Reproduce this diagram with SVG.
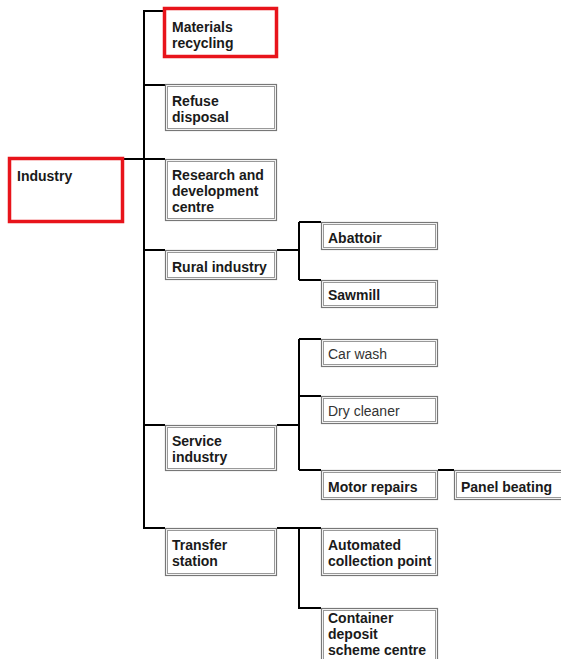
<svg xmlns="http://www.w3.org/2000/svg" width="561" height="659" viewBox="0 0 561 659">
<style>
.o{fill:#fff;stroke:#777;stroke-width:1.2}
.i{fill:none;stroke:#999;stroke-width:1}
.r{fill:#fff;stroke:#e8141b;stroke-width:3.5}
.t{font-family:"Liberation Sans",Arial,sans-serif;font-size:14px;font-weight:bold;fill:#1a1a1a}
.n{font-family:"Liberation Sans",Arial,sans-serif;font-size:14px;fill:#333}
.c{fill:none;stroke:#000;stroke-width:2}
</style>
<rect width="561" height="659" fill="#fff"/>
<g id="connectors">
<path class="c" d="M144,10 V528 H165"/>
<path class="c" d="M144,11 H165 M144,85 H165 M123,159 H165 M144,250 H165 M144,425 H165"/>
<path class="c" d="M277,250 H299 M299,222 V280 M299,222 H321 M299,280 H321"/>
<path class="c" d="M277,425 H299 M299,339 V470 M299,339 H321 M299,396 H321 M299,470 H321 M438,470 H454"/>
<path class="c" d="M277,528 H321 M299,528 V608 H321"/>
</g>
<g id="industry"><rect class="r" x="9.5" y="158.5" width="113" height="63"/><text class="t" x="17" y="181">Industry</text></g>
<g id="materials"><rect class="r" x="164.5" y="8.5" width="112" height="48"/><text class="t" x="172" y="32">Materials</text><text class="t" x="172" y="48">recycling</text></g>
<g id="refuse"><rect class="o" x="165.5" y="84.5" width="111" height="46"/><rect class="i" x="167.5" y="86.5" width="107" height="42"/><text class="t" x="172" y="106">Refuse</text><text class="t" x="172" y="122">disposal</text></g>
<g id="research"><rect class="o" x="165.5" y="159.5" width="111" height="61"/><rect class="i" x="167.5" y="161.5" width="107" height="57"/><text class="t" x="172" y="180">Research and</text><text class="t" x="172" y="196">development</text><text class="t" x="172" y="212">centre</text></g>
<g id="rural"><rect class="o" x="165.5" y="250.5" width="111" height="29"/><rect class="i" x="167.5" y="252.5" width="107" height="25"/><text class="t" x="172" y="272">Rural industry</text></g>
<g id="abattoir"><rect class="o" x="321.5" y="222.5" width="116" height="27"/><rect class="i" x="323.5" y="224.5" width="112" height="23"/><text class="t" x="328" y="243">Abattoir</text></g>
<g id="sawmill"><rect class="o" x="321.5" y="280.5" width="116" height="27"/><rect class="i" x="323.5" y="282.5" width="112" height="23"/><text class="t" x="328" y="300">Sawmill</text></g>
<g id="carwash"><rect class="o" x="321.5" y="339.5" width="116" height="27"/><rect class="i" x="323.5" y="341.5" width="112" height="23"/><text class="n" x="328" y="359">Car wash</text></g>
<g id="drycleaner"><rect class="o" x="321.5" y="396.5" width="116" height="27"/><rect class="i" x="323.5" y="398.5" width="112" height="23"/><text class="n" x="328" y="416">Dry cleaner</text></g>
<g id="service"><rect class="o" x="165.5" y="425.5" width="111" height="45"/><rect class="i" x="167.5" y="427.5" width="107" height="41"/><text class="t" x="172" y="446">Service</text><text class="t" x="172" y="462">industry</text></g>
<g id="motor"><rect class="o" x="321.5" y="470.5" width="116" height="29"/><rect class="i" x="323.5" y="472.5" width="112" height="25"/><text class="t" x="328" y="492">Motor repairs</text></g>
<g id="panel"><rect class="o" x="454.5" y="470.5" width="110" height="29"/><rect class="i" x="456.5" y="472.5" width="106" height="25"/><text class="t" x="461" y="492">Panel beating</text></g>
<g id="transfer"><rect class="o" x="165.5" y="528.5" width="111" height="47"/><rect class="i" x="167.5" y="530.5" width="107" height="43"/><text class="t" x="172" y="550">Transfer</text><text class="t" x="172" y="566">station</text></g>
<g id="automated"><rect class="o" x="321.5" y="528.5" width="116" height="47"/><rect class="i" x="323.5" y="530.5" width="112" height="43"/><text class="t" x="328" y="550">Automated</text><text class="t" x="328" y="566">collection point</text></g>
<g id="container"><rect class="o" x="321.5" y="608.5" width="116" height="56"/><rect class="i" x="323.5" y="610.5" width="112" height="52"/><text class="t" x="328" y="623">Container</text><text class="t" x="328" y="639">deposit</text><text class="t" x="328" y="655">scheme centre</text></g>
</svg>
